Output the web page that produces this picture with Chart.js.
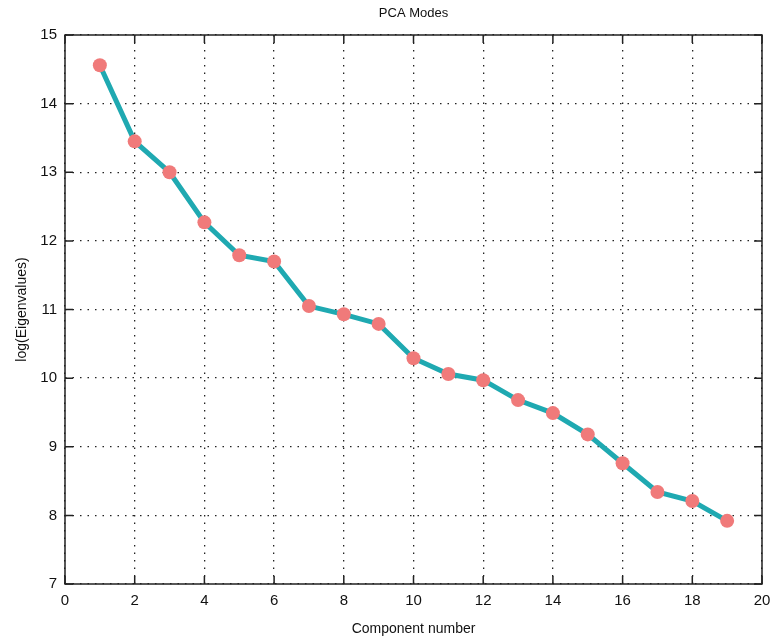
<!DOCTYPE html>
<html>
<head>
<meta charset="utf-8">
<script src="https://cdn.jsdelivr.net/npm/chart.js@4/dist/chart.umd.min.js"></script>
<style>
  html, body { margin: 0; padding: 0; background: #fff; }
  #wrap { width: 772px; height: 642px; }
</style>
</head>
<body>
<div id="wrap"><canvas id="chart-1" width="772" height="642"></canvas></div>
<script>
// component numbers and log eigenvalues
const components = [1, 2, 3, 4, 5, 6, 7, 8, 9, 10, 11, 12, 13, 14, 15, 16, 17, 18, 19];
const logEigen = [14.56, 13.45, 13.0, 12.27, 11.79, 11.7, 11.05, 10.93, 10.79, 10.29,
                  10.06, 9.97, 9.68, 9.49, 9.18, 8.76, 8.34, 8.21, 7.92];
const xTicks = [0, 2, 4, 6, 8, 10, 12, 14, 16, 18, 20];
const yTicks = [7, 8, 9, 10, 11, 12, 13, 14, 15];

const font = 'Liberation Sans, Arial, sans-serif';

// frame, inward ticks and title
const framePlugin = {
    id: 'frame',
    afterDraw(chart) {
        const c = chart.ctx, a = chart.chartArea;
        const xs = chart.scales.x, ys = chart.scales.y;
        c.save();
        c.strokeStyle = '#222';
        c.lineWidth = 1.5;
        c.strokeRect(a.left, a.top, a.right - a.left, a.bottom - a.top);
        c.beginPath();
        xTicks.forEach(v => {
            const px = xs.getPixelForValue(v);
            c.moveTo(px, a.bottom); c.lineTo(px, a.bottom - 8);
            c.moveTo(px, a.top); c.lineTo(px, a.top + 8);
        });
        yTicks.forEach(v => {
            const py = ys.getPixelForValue(v);
            c.moveTo(a.left, py); c.lineTo(a.left + 8, py);
            c.moveTo(a.right, py); c.lineTo(a.right - 8, py);
        });
        c.stroke();
        c.fillStyle = '#111';
        c.font = '13px ' + font;
        c.textAlign = 'center';
        c.textBaseline = 'middle';
        c.fillText('PCA Modes', (a.left + a.right) / 2, 13);
        c.restore();
    }
};

new Chart(document.getElementById('chart-1'), {
    type: 'line',
    data: {
        datasets: [{
            data: components.map((x, i) => ({ x: x, y: logEigen[i] })),
            borderColor: '#1fa9b1',
            borderWidth: 5,
            pointRadius: 7,
            pointHoverRadius: 7,
            pointBackgroundColor: '#f07a7a',
            pointBorderWidth: 0,
            tension: 0
        }]
    },
    options: {
        responsive: false,
        animation: false,
        layout: { padding: { top: 35, right: 10, left: 0, bottom: 0 } },
        plugins: { legend: { display: false }, tooltip: { enabled: false } },
        scales: {
            x: {
                type: 'linear',
                min: 0, max: 20,
                afterBuildTicks: s => { s.ticks = xTicks.map(v => ({ value: v })); },
                afterFit: s => { s.height = 58; s.paddingLeft = 0; s.paddingRight = 0; },
                grid: { color: '#222', lineWidth: 1.3, drawTicks: false },
                border: { display: false, dash: [1.5, 6] },
                ticks: { color: '#111', font: { family: font, size: 15 }, padding: 8 },
                title: { display: true, text: 'Component number', color: '#111',
                         font: { family: font, size: 14 }, padding: { top: 2, bottom: 4 } }
            },
            y: {
                min: 7, max: 15,
                afterBuildTicks: s => { s.ticks = yTicks.map(v => ({ value: v })); },
                afterFit: s => { s.width = 65; s.paddingTop = 0; s.paddingBottom = 0; },
                grid: { color: '#222', lineWidth: 1.3, drawTicks: false },
                border: { display: false, dash: [1.5, 6] },
                ticks: { color: '#111', font: { family: font, size: 15 }, padding: 8 },
                title: { display: true, text: 'log(Eigenvalues)', color: '#111',
                         font: { family: font, size: 14 }, padding: { top: 14, bottom: 4 } }
            }
        }
    },
    plugins: [framePlugin]
});
</script>
</body>
</html>
